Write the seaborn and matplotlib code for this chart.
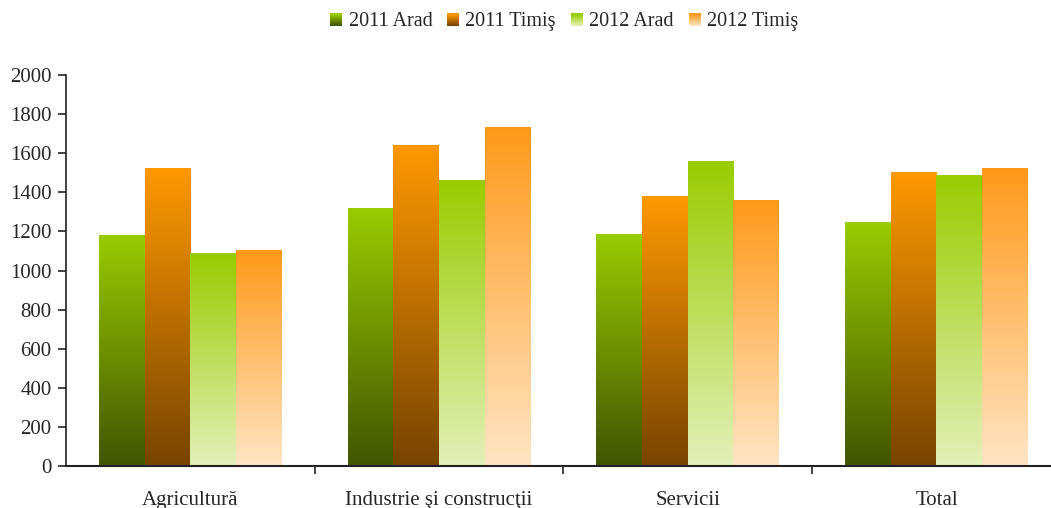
import numpy as np
import pandas as pd
import matplotlib
matplotlib.use("Agg")
import matplotlib.pyplot as plt
import seaborn as sns
from matplotlib.colors import LinearSegmentedColormap
from matplotlib.patches import Rectangle
from matplotlib.legend_handler import HandlerBase

# data
categories = ["Agricultură", "Industrie şi construcţii", "Servicii", "Total"]
series = ["2011 Arad", "2011 Timiş", "2012 Arad", "2012 Timiş"]
arad_2011 = [1180, 1315, 1183, 1248]
timis_2011 = [1520, 1638, 1376, 1500]
arad_2012 = [1085, 1458, 1556, 1484]
timis_2012 = [1100, 1730, 1356, 1520]

# gradient colours (top, bottom) per series
grad = {
    "2011 Arad": ("#99CC00", "#425500"),
    "2011 Timiş": ("#FF9900", "#774400"),
    "2012 Arad": ("#99CC00", "#E3F0B8"),
    "2012 Timiş": ("#FF991A", "#FFE5C4"),
}

df = pd.DataFrame({
    "cat": np.repeat(categories, 4),
    "series": series * 4,
    "value": [v for vals in zip(arad_2011, timis_2011, arad_2012, timis_2012) for v in vals],
})

sns.set_style("white")
plt.rcParams["font.family"] = ["Liberation Serif", "DejaVu Serif"]

fig = plt.figure(figsize=(10.51, 5.08), dpi=100)
ax = fig.add_axes([66 / 1051, 1 - 466 / 508, (1051 - 66) / 1051, (466 - 75) / 508])

sns.barplot(data=df, x="cat", y="value", hue="series", hue_order=series,
            order=categories, width=0.735, gap=0, ax=ax, legend=False,
            palette=[grad[s][0] for s in series], saturation=1, errorbar=None)

# replace each bar's flat fill with a vertical gradient
for cont, s in zip(ax.containers, series):
    cmap = LinearSegmentedColormap.from_list(s, [grad[s][1], grad[s][0]])
    img = np.linspace(0, 1, 256).reshape(-1, 1)
    for bar in cont:
        x0, y0 = bar.get_x(), bar.get_y()
        w, h = bar.get_width(), bar.get_height()
        bar.set_facecolor("none")
        bar.set_edgecolor("none")
        ax.imshow(img, cmap=cmap, origin="lower", aspect="auto",
                  extent=[x0, x0 + w, y0, y0 + h], zorder=2, interpolation="bilinear")

ax.set_yticks(range(0, 2001, 200))
ax.set_xlabel("")
ax.set_ylabel("")

# category labels centred, ticks at the boundaries
ax.set_xticks(range(len(categories)))
ax.set_xticklabels(categories, fontsize=15)
ax.tick_params(axis="x", which="major", bottom=True, length=0, pad=18)
ax.set_xticks([0.5, 1.5, 2.5], minor=True)
ax.tick_params(axis="x", which="minor", bottom=True, length=5.5, width=1.2,
               direction="out", color="#222222")
ax.tick_params(axis="y", left=True, length=5.5, width=1.2, direction="out",
               color="#222222", labelsize=15, pad=5)

ax.set_xlim(-0.5, -0.5 + 985 / 248.7)
ax.set_ylim(0, 2000)

for side in ["top", "right"]:
    ax.spines[side].set_visible(False)
ax.spines["left"].set_color("#222222")
ax.spines["bottom"].set_color("#222222")
ax.spines["left"].set_linewidth(1.2)
ax.spines["bottom"].set_linewidth(1.5)


class GradHandler(HandlerBase):
    def __init__(self, top, bottom):
        super().__init__()
        self.cmap = LinearSegmentedColormap.from_list("h", [bottom, top])

    def create_artists(self, legend, orig_handle, xdescent, ydescent, width, height, fontsize, trans):
        n = 12
        size = height * 0.85
        x0 = xdescent + width - size
        arts = []
        for i in range(n):
            r = Rectangle((x0, -ydescent + i * size / n), size, size / n + 0.2,
                          facecolor=self.cmap(i / (n - 1)), edgecolor="none", transform=trans)
            arts.append(r)
        return arts


handles = [Rectangle((0, 0), 1, 1) for _ in series]
hmap = {h: GradHandler(*grad[s]) for h, s in zip(handles, series)}
fig.legend(handles, series, handler_map=hmap, loc="center", bbox_to_anchor=(0.535, 1 - 21 / 508),
           ncol=4, frameon=False, fontsize=14.5, handlelength=0.8, handletextpad=0.3,
           columnspacing=0.55)

fig.savefig("out.png", dpi=100)
